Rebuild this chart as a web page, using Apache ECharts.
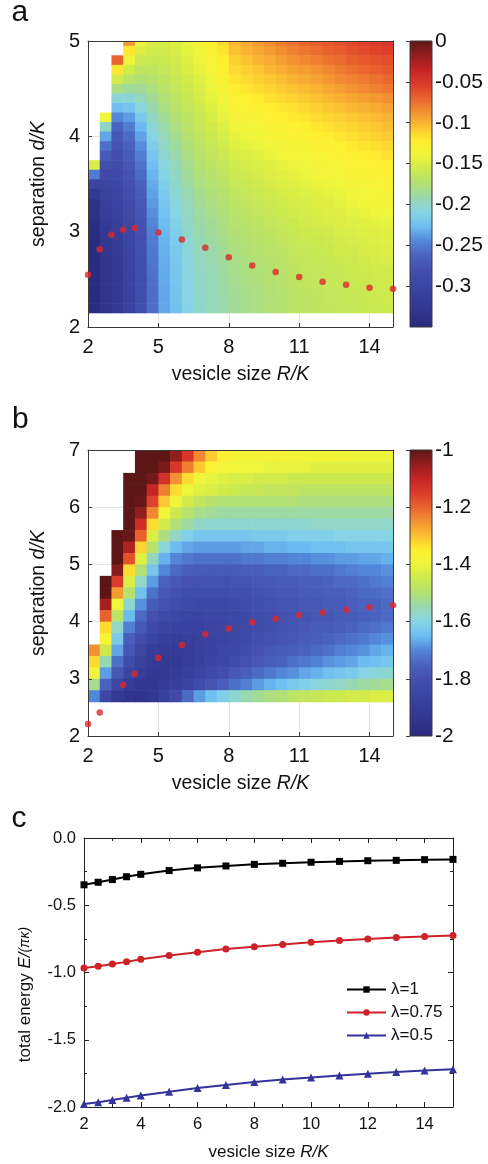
<!DOCTYPE html>
<html>
<head>
<meta charset="utf-8">
<script src="https://cdn.jsdelivr.net/npm/echarts@6/dist/echarts.min.js"></script>
<style>
  html, body { margin: 0; padding: 0; background: #fff; }
  #chart { width: 488px; height: 1164px; }
</style>
</head>
<body>
<div id="chart"></div>
<script>
// ---------------------------------------------------------------------------
// Data
// ---------------------------------------------------------------------------
const _ = null; // no data (outside the computed region)

// Cell centres along the vesicle size axis R/K (cells are 0.5 wide, spanning 2..15)
const cellX = [2.25, 2.75, 3.25, 3.75, 4.25, 4.75, 5.25, 5.75, 6.25, 6.75, 7.25, 7.75, 8.25,
               8.75, 9.25, 9.75, 10.25, 10.75, 11.25, 11.75, 12.25, 12.75, 13.25, 13.75, 14.25, 14.75];

// Panel a: separation d/K of each row (cells 0.1 tall), top to bottom
const rowsA = [5.0, 4.9, 4.8, 4.7, 4.6, 4.5, 4.4, 4.3, 4.2, 4.1, 4.0, 3.9, 3.8, 3.7, 3.6,
               3.5, 3.4, 3.3, 3.2, 3.1, 3.0, 2.9, 2.8, 2.7, 2.6, 2.5, 2.4, 2.3, 2.2];

// Panel a energy, one column per cellX entry, values listed along rowsA
const energyA = [
  [_,_,_,_,_,_,_,_,_,_,_,_,_, -0.15,-0.25,-0.30,-0.325,-0.335,-0.34,-0.343,-0.345,-0.346,-0.346,-0.346,-0.346,-0.346,-0.346,-0.346,-0.346],
  [_,_,_,_,_,_,_,_, -0.14,-0.2,-0.235,-0.255,-0.27,-0.283,-0.292,-0.3,-0.307,-0.312,-0.316,-0.32,-0.323,-0.326,-0.328,-0.33,-0.331,-0.332,-0.333,-0.333,-0.334],
  [_,_, -0.07,-0.12,-0.155,-0.18,-0.205,-0.225,-0.245,-0.262,-0.272,-0.278,-0.283,-0.287,-0.291,-0.295,-0.3,-0.304,-0.308,-0.311,-0.314,-0.316,-0.318,-0.319,-0.32,-0.321,-0.322,-0.322,-0.322],
  [-0.09,-0.12,-0.14,-0.155,-0.17,-0.187,-0.205,-0.222,-0.238,-0.25,-0.258,-0.264,-0.269,-0.273,-0.277,-0.28,-0.284,-0.288,-0.291,-0.294,-0.297,-0.299,-0.301,-0.302,-0.303,-0.304,-0.305,-0.305,-0.305],
  [-0.14,-0.15,-0.158,-0.166,-0.175,-0.185,-0.196,-0.207,-0.218,-0.228,-0.236,-0.243,-0.249,-0.254,-0.259,-0.264,-0.268,-0.272,-0.275,-0.277,-0.279,-0.281,-0.282,-0.283,-0.284,-0.285,-0.285,-0.286,-0.286],
  [-0.15,-0.155,-0.16,-0.166,-0.172,-0.178,-0.185,-0.192,-0.199,-0.205,-0.211,-0.216,-0.221,-0.225,-0.229,-0.233,-0.236,-0.239,-0.242,-0.245,-0.248,-0.25,-0.252,-0.253,-0.254,-0.255,-0.256,-0.256,-0.256],
  [-0.152,-0.155,-0.158,-0.162,-0.166,-0.17,-0.175,-0.18,-0.185,-0.19,-0.195,-0.199,-0.203,-0.207,-0.211,-0.214,-0.217,-0.22,-0.223,-0.226,-0.228,-0.23,-0.231,-0.232,-0.233,-0.233,-0.234,-0.234,-0.234],
  [-0.148,-0.151,-0.154,-0.157,-0.16,-0.163,-0.167,-0.171,-0.175,-0.179,-0.183,-0.187,-0.191,-0.195,-0.198,-0.201,-0.204,-0.207,-0.21,-0.212,-0.214,-0.216,-0.218,-0.219,-0.22,-0.221,-0.222,-0.222,-0.223],
  [-0.142,-0.145,-0.148,-0.151,-0.154,-0.157,-0.16,-0.163,-0.167,-0.17,-0.174,-0.177,-0.18,-0.184,-0.187,-0.19,-0.193,-0.196,-0.198,-0.2,-0.202,-0.204,-0.206,-0.207,-0.208,-0.209,-0.21,-0.21,-0.211],
  [-0.135,-0.138,-0.141,-0.144,-0.147,-0.15,-0.153,-0.156,-0.159,-0.162,-0.165,-0.168,-0.171,-0.174,-0.177,-0.18,-0.183,-0.185,-0.188,-0.19,-0.192,-0.194,-0.196,-0.197,-0.199,-0.2,-0.2,-0.201,-0.201],
  [-0.125,-0.128,-0.132,-0.135,-0.138,-0.142,-0.145,-0.148,-0.152,-0.155,-0.158,-0.162,-0.165,-0.168,-0.171,-0.174,-0.177,-0.18,-0.182,-0.185,-0.187,-0.189,-0.191,-0.192,-0.194,-0.195,-0.195,-0.196,-0.196],
  [-0.115,-0.119,-0.122,-0.126,-0.13,-0.133,-0.137,-0.141,-0.144,-0.148,-0.152,-0.155,-0.159,-0.163,-0.166,-0.169,-0.172,-0.174,-0.177,-0.179,-0.181,-0.183,-0.185,-0.187,-0.188,-0.189,-0.19,-0.191,-0.191],
  [-0.102,-0.106,-0.111,-0.115,-0.119,-0.123,-0.127,-0.131,-0.136,-0.14,-0.144,-0.148,-0.152,-0.156,-0.159,-0.162,-0.165,-0.168,-0.17,-0.172,-0.175,-0.177,-0.179,-0.18,-0.182,-0.183,-0.184,-0.185,-0.185],
  [-0.097,-0.101,-0.106,-0.111,-0.115,-0.12,-0.124,-0.129,-0.133,-0.137,-0.141,-0.145,-0.149,-0.153,-0.156,-0.159,-0.162,-0.165,-0.167,-0.17,-0.172,-0.174,-0.176,-0.178,-0.179,-0.18,-0.181,-0.182,-0.182],
  [-0.091,-0.096,-0.101,-0.107,-0.111,-0.116,-0.121,-0.126,-0.13,-0.134,-0.138,-0.142,-0.146,-0.15,-0.153,-0.156,-0.159,-0.162,-0.164,-0.167,-0.169,-0.171,-0.173,-0.175,-0.176,-0.177,-0.178,-0.179,-0.179],
  [-0.086,-0.091,-0.097,-0.102,-0.108,-0.113,-0.118,-0.123,-0.127,-0.131,-0.135,-0.139,-0.143,-0.147,-0.15,-0.153,-0.156,-0.159,-0.161,-0.164,-0.166,-0.168,-0.17,-0.172,-0.173,-0.174,-0.175,-0.176,-0.176],
  [-0.08,-0.086,-0.092,-0.098,-0.104,-0.109,-0.115,-0.12,-0.124,-0.128,-0.132,-0.136,-0.14,-0.144,-0.147,-0.15,-0.153,-0.156,-0.158,-0.161,-0.163,-0.165,-0.167,-0.169,-0.17,-0.171,-0.172,-0.173,-0.173],
  [-0.075,-0.081,-0.087,-0.094,-0.1,-0.106,-0.112,-0.117,-0.121,-0.125,-0.129,-0.133,-0.137,-0.141,-0.144,-0.147,-0.15,-0.153,-0.155,-0.158,-0.16,-0.162,-0.164,-0.165,-0.166,-0.167,-0.168,-0.169,-0.169],
  [-0.071,-0.077,-0.084,-0.091,-0.097,-0.103,-0.109,-0.114,-0.119,-0.123,-0.127,-0.131,-0.135,-0.139,-0.142,-0.145,-0.148,-0.151,-0.153,-0.155,-0.157,-0.159,-0.161,-0.163,-0.164,-0.165,-0.166,-0.167,-0.167],
  [-0.068,-0.074,-0.081,-0.088,-0.094,-0.1,-0.106,-0.111,-0.116,-0.12,-0.124,-0.128,-0.132,-0.136,-0.14,-0.143,-0.146,-0.149,-0.151,-0.153,-0.156,-0.158,-0.16,-0.162,-0.163,-0.164,-0.165,-0.166,-0.166],
  [-0.065,-0.07,-0.076,-0.083,-0.089,-0.096,-0.102,-0.108,-0.113,-0.118,-0.122,-0.126,-0.13,-0.134,-0.137,-0.141,-0.144,-0.147,-0.149,-0.152,-0.154,-0.156,-0.158,-0.16,-0.161,-0.162,-0.163,-0.164,-0.165],
  [-0.062,-0.067,-0.073,-0.079,-0.085,-0.092,-0.099,-0.105,-0.111,-0.115,-0.119,-0.124,-0.128,-0.132,-0.135,-0.139,-0.142,-0.145,-0.147,-0.15,-0.152,-0.154,-0.156,-0.158,-0.16,-0.161,-0.162,-0.163,-0.163],
  [-0.058,-0.063,-0.069,-0.075,-0.082,-0.088,-0.096,-0.102,-0.108,-0.113,-0.117,-0.121,-0.125,-0.129,-0.133,-0.136,-0.139,-0.142,-0.145,-0.148,-0.151,-0.153,-0.155,-0.157,-0.158,-0.159,-0.16,-0.161,-0.162],
  [-0.055,-0.06,-0.066,-0.072,-0.079,-0.085,-0.093,-0.1,-0.106,-0.11,-0.114,-0.119,-0.123,-0.127,-0.131,-0.134,-0.137,-0.14,-0.143,-0.146,-0.149,-0.151,-0.153,-0.155,-0.157,-0.158,-0.159,-0.16,-0.16],
  [-0.053,-0.057,-0.063,-0.069,-0.076,-0.082,-0.09,-0.097,-0.103,-0.108,-0.112,-0.117,-0.121,-0.125,-0.128,-0.132,-0.135,-0.138,-0.141,-0.145,-0.147,-0.149,-0.151,-0.153,-0.155,-0.156,-0.157,-0.158,-0.159],
  [-0.05,-0.054,-0.06,-0.066,-0.072,-0.078,-0.087,-0.094,-0.1,-0.105,-0.109,-0.114,-0.118,-0.122,-0.126,-0.13,-0.133,-0.136,-0.139,-0.143,-0.146,-0.148,-0.15,-0.152,-0.154,-0.155,-0.156,-0.157,-0.158]
];

// Panel b: separation d/K of each row (cells 0.2 tall), top to bottom
const rowsB = [6.9, 6.7, 6.5, 6.3, 6.1, 5.9, 5.7, 5.5, 5.3, 5.1, 4.9, 4.7, 4.5, 4.3, 4.1, 3.9, 3.7, 3.5, 3.3, 3.1, 2.9, 2.7];

// Panel b energy, one row per rowsB entry, values listed along cellX
const energyB = [
  [_,_,_,_, -1.0,-1.0,-1.0,-1.05,-1.14,-1.24,-1.31,-1.36,-1.38,-1.38,-1.38,-1.38,-1.38,-1.39,-1.39,-1.39,-1.39,-1.39,-1.40,-1.40,-1.40,-1.40],
  [_,_,_,_, -1.0,-1.0,-1.03,-1.14,-1.23,-1.31,-1.37,-1.39,-1.40,-1.40,-1.40,-1.41,-1.41,-1.41,-1.41,-1.42,-1.42,-1.42,-1.42,-1.42,-1.42,-1.42],
  [_,_,_, -1.0,-1.0,-1.02,-1.13,-1.25,-1.33,-1.39,-1.41,-1.42,-1.43,-1.43,-1.44,-1.44,-1.44,-1.45,-1.45,-1.45,-1.45,-1.45,-1.45,-1.45,-1.45,-1.45],
  [_,_,_, -1.0,-1.0,-1.1,-1.23,-1.33,-1.40,-1.42,-1.43,-1.44,-1.45,-1.46,-1.46,-1.47,-1.47,-1.47,-1.48,-1.48,-1.48,-1.48,-1.48,-1.48,-1.48,-1.48],
  [_,_,_, -1.0,-1.01,-1.16,-1.31,-1.40,-1.44,-1.47,-1.49,-1.50,-1.50,-1.50,-1.50,-1.50,-1.50,-1.50,-1.51,-1.51,-1.51,-1.51,-1.51,-1.51,-1.51,-1.51],
  [_,_,_, -1.0,-1.05,-1.24,-1.39,-1.45,-1.49,-1.52,-1.53,-1.54,-1.54,-1.54,-1.54,-1.54,-1.54,-1.54,-1.54,-1.54,-1.54,-1.54,-1.54,-1.54,-1.54,-1.54],
  [_,_,_, -1.0,-1.12,-1.33,-1.44,-1.50,-1.54,-1.57,-1.58,-1.58,-1.58,-1.58,-1.58,-1.58,-1.58,-1.58,-1.58,-1.57,-1.57,-1.57,-1.57,-1.57,-1.57,-1.57],
  [_,_, -1.0,-1.01,-1.2,-1.43,-1.51,-1.57,-1.61,-1.63,-1.63,-1.63,-1.63,-1.63,-1.62,-1.62,-1.62,-1.61,-1.61,-1.61,-1.61,-1.60,-1.60,-1.60,-1.60,-1.60],
  [_,_, -1.0,-1.08,-1.32,-1.49,-1.59,-1.65,-1.67,-1.68,-1.68,-1.68,-1.68,-1.67,-1.67,-1.66,-1.66,-1.65,-1.65,-1.64,-1.64,-1.64,-1.63,-1.63,-1.63,-1.63],
  [_,_, -1.0,-1.18,-1.42,-1.56,-1.66,-1.70,-1.72,-1.73,-1.73,-1.73,-1.73,-1.72,-1.72,-1.71,-1.71,-1.70,-1.70,-1.69,-1.69,-1.68,-1.68,-1.67,-1.67,-1.66],
  [_,_, -1.04,-1.33,-1.50,-1.63,-1.70,-1.74,-1.76,-1.77,-1.77,-1.77,-1.77,-1.76,-1.76,-1.75,-1.75,-1.74,-1.74,-1.73,-1.73,-1.72,-1.71,-1.70,-1.70,-1.69],
  [_, -1.0,-1.15,-1.43,-1.57,-1.68,-1.75,-1.78,-1.80,-1.80,-1.80,-1.80,-1.79,-1.79,-1.78,-1.78,-1.77,-1.77,-1.76,-1.76,-1.75,-1.74,-1.74,-1.73,-1.72,-1.71],
  [_, -1.0,-1.26,-1.49,-1.64,-1.73,-1.78,-1.80,-1.82,-1.82,-1.82,-1.82,-1.81,-1.81,-1.80,-1.79,-1.78,-1.78,-1.77,-1.77,-1.76,-1.76,-1.75,-1.74,-1.74,-1.73],
  [_, -1.07,-1.40,-1.58,-1.69,-1.77,-1.80,-1.82,-1.83,-1.84,-1.84,-1.84,-1.83,-1.82,-1.81,-1.80,-1.79,-1.79,-1.78,-1.78,-1.77,-1.77,-1.76,-1.75,-1.75,-1.74],
  [_, -1.2,-1.48,-1.65,-1.74,-1.80,-1.83,-1.85,-1.86,-1.86,-1.85,-1.85,-1.84,-1.83,-1.82,-1.81,-1.80,-1.79,-1.79,-1.78,-1.78,-1.77,-1.77,-1.76,-1.75,-1.74],
  [_, -1.33,-1.57,-1.71,-1.78,-1.83,-1.86,-1.87,-1.87,-1.87,-1.86,-1.86,-1.85,-1.83,-1.82,-1.81,-1.80,-1.79,-1.78,-1.77,-1.77,-1.76,-1.75,-1.74,-1.73,-1.72],
  [_, -1.37,-1.62,-1.76,-1.81,-1.86,-1.89,-1.90,-1.89,-1.88,-1.87,-1.86,-1.85,-1.83,-1.81,-1.80,-1.79,-1.78,-1.77,-1.76,-1.75,-1.74,-1.73,-1.72,-1.70,-1.69],
  [-1.25,-1.45,-1.67,-1.78,-1.85,-1.89,-1.91,-1.91,-1.90,-1.88,-1.87,-1.85,-1.84,-1.82,-1.80,-1.78,-1.77,-1.76,-1.75,-1.74,-1.73,-1.71,-1.70,-1.69,-1.67,-1.66],
  [-1.33,-1.55,-1.73,-1.82,-1.88,-1.91,-1.92,-1.92,-1.90,-1.88,-1.86,-1.84,-1.82,-1.80,-1.78,-1.76,-1.75,-1.73,-1.72,-1.71,-1.69,-1.68,-1.67,-1.65,-1.64,-1.63],
  [-1.40,-1.68,-1.78,-1.86,-1.90,-1.92,-1.92,-1.91,-1.89,-1.86,-1.83,-1.81,-1.78,-1.76,-1.74,-1.72,-1.70,-1.69,-1.67,-1.66,-1.64,-1.63,-1.62,-1.60,-1.59,-1.58],
  [-1.52,-1.75,-1.85,-1.91,-1.93,-1.93,-1.91,-1.89,-1.86,-1.82,-1.79,-1.76,-1.73,-1.71,-1.68,-1.66,-1.64,-1.62,-1.61,-1.59,-1.58,-1.57,-1.55,-1.54,-1.53,-1.52],
  [-1.70,-1.85,-1.92,-1.95,-1.95,-1.93,-1.88,-1.83,-1.74,-1.68,-1.64,-1.61,-1.58,-1.55,-1.53,-1.51,-1.50,-1.48,-1.47,-1.46,-1.45,-1.45,-1.44,-1.44,-1.43,-1.43]
];

// Optimal separation for each vesicle size (red markers)
const optimumA_R = [2, 2.5, 3, 3.5, 4, 5, 6, 7, 8, 9, 10, 11, 12, 13, 14, 15];
const optimumA_d = [2.549, 2.816, 2.968, 3.021, 3.038, 2.99, 2.919, 2.83, 2.732, 2.646, 2.578, 2.524, 2.474, 2.442, 2.412, 2.4];
const optimumB_R = [2, 2.5, 3.5, 4, 5, 6, 7, 8, 9, 10, 11, 12, 13, 14, 15];
const optimumB_d = [2.21, 2.41, 2.89, 3.09, 3.37, 3.59, 3.78, 3.88, 3.99, 4.05, 4.115, 4.16, 4.205, 4.25, 4.287];

// Panel c: total energy at the optimum for three values of lambda
const sizeC = [2, 2.5, 3, 3.5, 4, 5, 6, 7, 8, 9, 10, 11, 12, 13, 14, 15];
const energyLambda1 = [-0.348, -0.329, -0.309, -0.288, -0.270, -0.242, -0.222, -0.208, -0.196, -0.188, -0.180, -0.174, -0.169, -0.166, -0.161, -0.159];
const energyLambda075 = [-0.967, -0.954, -0.936, -0.921, -0.902, -0.874, -0.849, -0.826, -0.808, -0.791, -0.776, -0.762, -0.751, -0.740, -0.732, -0.724];
const energyLambda05 = [-1.978, -1.964, -1.948, -1.931, -1.915, -1.887, -1.858, -1.836, -1.815, -1.795, -1.780, -1.765, -1.752, -1.740, -1.728, -1.720];

// Colour bar tick labels
const colorbarTicksA = { min: -0.35, max: 0, step: 0.05 };
const colorbarTicksB = { min: -2, max: -1, step: 0.2 };

// Jet-like colour scale, evenly spaced from low to high
const palette = ['#2a2a7e', '#30348c', '#363d98', '#3c46a3', '#4350ae', '#4a62bf', '#5286d8',
                 '#6cbcf2', '#86d4e6', '#98d8b0', '#b2e074', '#cce94e', '#eef53a', '#ffee30',
                 '#fbc032', '#f39232', '#e9622e', '#dc3a2a', '#c42424', '#921d1d', '#5c1616'];

// ---------------------------------------------------------------------------
// Build series data
// ---------------------------------------------------------------------------
const cellsA = [];
energyA.forEach((col, i) => col.forEach((v, j) => { if (v !== null) cellsA.push([cellX[i], rowsA[j], v]); }));
const cellsB = [];
energyB.forEach((row, j) => row.forEach((v, i) => { if (v !== null) cellsB.push([cellX[i], rowsB[j], v]); }));

const FONT = '"Liberation Sans", Arial, Helvetica, sans-serif';
const INK = '#111';
const FRAME = '#3a3a3a';
const GRIDLINE = '#e2e2e2';

// Draws one map cell as a rectangle, clipped to the plotting area
function cellRenderer(dx, dy) {
  return function (params, api) {
    const cs = params.coordSys;
    const cx = api.value(0), cy = api.value(1);
    const tl = api.coord([cx - dx / 2, cy + dy / 2]);
    const br = api.coord([cx + dx / 2, cy - dy / 2]);
    const x0 = Math.max(tl[0], cs.x), y0 = Math.max(tl[1], cs.y);
    const x1 = Math.min(br[0] + 0.6, cs.x + cs.width);
    const y1 = Math.min(br[1] + 0.6, cs.y + cs.height);
    return { type: 'rect', shape: { x: x0, y: y0, width: x1 - x0, height: y1 - y0 },
             style: { fill: api.visual('color') } };
  };
}

// Colour bar: one gradient rectangle filling its grid
function colorbarRenderer(params) {
  const cs = params.coordSys;
  const stops = palette.map((c, k) => ({ offset: k / (palette.length - 1), color: c }));
  return { type: 'rect', shape: { x: cs.x, y: cs.y, width: cs.width, height: cs.height },
           style: { fill: new echarts.graphic.LinearGradient(0, 1, 0, 0, stops), stroke: FRAME, lineWidth: 1 } };
}

const tickFont = { fontFamily: FONT, fontSize: 20, color: INK };
const italicRich = (size) => ({ i: { fontFamily: FONT, fontSize: size, fontStyle: 'italic', color: INK } });

// Axes for one map panel: labelled axes underneath, frame axes drawn on top
function mapXAxes(grid) {
  return [
    { gridIndex: grid, type: 'value', min: 2, max: 15, interval: 3, position: 'bottom',
      name: 'vesicle size {i|R/K}', nameLocation: 'middle', nameGap: 38,
      nameTextStyle: { fontFamily: FONT, fontSize: 19.5, color: INK, rich: italicRich(19.5) },
      axisLine: { show: false }, axisTick: { show: false },
      axisLabel: Object.assign({ margin: 10, showMaxLabel: false }, tickFont),
      splitLine: { show: true, lineStyle: { color: GRIDLINE, width: 1 } } },
    { gridIndex: grid, type: 'value', min: 2, max: 15, interval: 3, position: 'bottom', z: 5,
      axisLine: { show: true, onZero: false, lineStyle: { color: FRAME, width: 1 } },
      axisTick: { show: true, inside: true, length: 4, lineStyle: { color: FRAME } },
      axisLabel: { show: false }, splitLine: { show: false } },
    { gridIndex: grid, type: 'value', min: 2, max: 15, interval: 3, position: 'top', z: 5,
      axisLine: { show: true, onZero: false, lineStyle: { color: FRAME, width: 1 } },
      axisTick: { show: false }, axisLabel: { show: false }, splitLine: { show: false } }
  ];
}
function mapYAxes(grid, max) {
  return [
    { gridIndex: grid, type: 'value', min: 2, max: max, interval: 1, position: 'left',
      name: 'separation {i|d/K}', nameLocation: 'middle', nameGap: 39,
      nameTextStyle: { fontFamily: FONT, fontSize: 19.5, color: INK, rich: italicRich(19.5) },
      axisLine: { show: false }, axisTick: { show: false },
      axisLabel: Object.assign({ margin: 8 }, tickFont),
      splitLine: { show: true, lineStyle: { color: GRIDLINE, width: 1 } } },
    { gridIndex: grid, type: 'value', min: 2, max: max, interval: 1, position: 'left', z: 5,
      axisLine: { show: true, onZero: false, lineStyle: { color: FRAME, width: 1 } },
      axisTick: { show: true, inside: true, length: 4, lineStyle: { color: FRAME } },
      axisLabel: { show: false }, splitLine: { show: false } },
    { gridIndex: grid, type: 'value', min: 2, max: max, interval: 1, position: 'right', z: 5,
      axisLine: { show: true, onZero: false, lineStyle: { color: FRAME, width: 1 } },
      axisTick: { show: false }, axisLabel: { show: false }, splitLine: { show: false } }
  ];
}
function colorbarYAxis(grid, t) {
  return { gridIndex: grid, type: 'value', min: t.min, max: t.max, interval: t.step, position: 'right', z: 5,
    axisLine: { show: false },
    axisTick: { show: true, inside: true, length: 4, lineStyle: { color: FRAME } },
    axisLabel: Object.assign({ margin: 3, showMinLabel: t.min !== -0.35 }, tickFont, { fontSize: 21 }),
    splitLine: { show: false } };
}
const hiddenX = (grid) => ({ gridIndex: grid, type: 'value', min: 0, max: 1, show: false });

const lineAxisFrame = { show: true, onZero: false, lineStyle: { color: '#222', width: 1 } };
const lineTicks = { show: true, inside: true, length: 5, lineStyle: { color: '#222' } };
const lineMinor = { show: true, splitNumber: 2, length: 3, lineStyle: { color: '#222' } };
const cFont = { fontFamily: FONT, fontSize: 16.5, color: INK };

const option = {
  animation: false,
  backgroundColor: '#fff',
  grid: [
    { left: 88, top: 41, width: 305, height: 286, outerBoundsMode: 'none', containLabel: false },
    { left: 88, top: 450, width: 305, height: 286, outerBoundsMode: 'none', containLabel: false },
    { left: 410, top: 41, width: 22, height: 286, outerBoundsMode: 'none', containLabel: false },
    { left: 410, top: 450, width: 22, height: 286, outerBoundsMode: 'none', containLabel: false },
    { left: 84, top: 838, width: 369, height: 269, outerBoundsMode: 'none', containLabel: false }
  ],
  xAxis: [
    ...mapXAxes(0),              // 0,1,2
    ...mapXAxes(1),              // 3,4,5
    hiddenX(2),                  // 6
    hiddenX(3),                  // 7
    { gridIndex: 4, type: 'value', min: 2, max: 15, interval: 2, position: 'bottom',   // 8
      name: 'vesicle size {i|R/K}', nameLocation: 'middle', nameGap: 37,
      nameTextStyle: { fontFamily: FONT, fontSize: 17, color: INK, rich: italicRich(17) },
      axisLine: lineAxisFrame, axisTick: lineTicks, minorTick: lineMinor,
      axisLabel: Object.assign({ margin: 9, showMaxLabel: false }, cFont),
      splitLine: { show: false } },
    { gridIndex: 4, type: 'value', min: 2, max: 15, interval: 2, position: 'top',      // 9
      axisLine: lineAxisFrame, axisTick: lineTicks, minorTick: lineMinor,
      axisLabel: { show: false }, splitLine: { show: false } }
  ],
  yAxis: [
    ...mapYAxes(0, 5),           // 0,1,2
    ...mapYAxes(1, 7),           // 3,4,5
    colorbarYAxis(2, colorbarTicksA),  // 6
    colorbarYAxis(3, colorbarTicksB),  // 7
    { gridIndex: 4, type: 'value', min: -2, max: 0, interval: 0.5, position: 'left',   // 8
      name: 'total energy {i|E/}{s|(πκ)}', nameLocation: 'middle', nameGap: 50,
      nameTextStyle: { fontFamily: FONT, fontSize: 17, color: INK, padding: [0, 44, 0, 0],
        rich: Object.assign(italicRich(17), { s: { fontFamily: FONT, fontSize: 14, fontStyle: 'italic', color: INK } }) },
      axisLine: lineAxisFrame, axisTick: lineTicks, minorTick: lineMinor,
      axisLabel: Object.assign({ margin: 8, formatter: (v) => v.toFixed(1) }, cFont),
      splitLine: { show: false } },
    { gridIndex: 4, type: 'value', min: -2, max: 0, interval: 0.5, position: 'right',  // 9
      axisLine: lineAxisFrame, axisTick: lineTicks, minorTick: lineMinor,
      axisLabel: { show: false }, splitLine: { show: false } }
  ],
  visualMap: [
    { type: 'continuous', show: false, seriesIndex: 0, dimension: 2, min: -0.35, max: 0, inRange: { color: palette } },
    { type: 'continuous', show: false, seriesIndex: 2, dimension: 2, min: -2, max: -1, inRange: { color: palette } }
  ],
  legend: {
    data: ['λ=1', 'λ=0.75', 'λ=0.5'],
    orient: 'vertical', left: 346, top: 981, padding: 0,
    itemWidth: 39, itemHeight: 8, itemGap: 6,
    textStyle: { fontFamily: FONT, fontSize: 17, color: INK }
  },
  graphic: [
    { type: 'text', x: 11.5, y: 13, style: { text: 'a', font: '30px "Liberation Sans", Arial, sans-serif', fill: INK, verticalAlign: 'middle' } },
    { type: 'text', x: 12, y: 420, style: { text: 'b', font: '30px "Liberation Sans", Arial, sans-serif', fill: INK, verticalAlign: 'middle' } },
    { type: 'text', x: 11.5, y: 819, style: { text: 'c', font: '30px "Liberation Sans", Arial, sans-serif', fill: INK, verticalAlign: 'middle' } }
  ],
  series: [
    { type: 'custom', xAxisIndex: 0, yAxisIndex: 0, renderItem: cellRenderer(0.5, 0.1),
      encode: { x: 0, y: 1 }, data: cellsA, z: 2, silent: true },
    { type: 'scatter', xAxisIndex: 0, yAxisIndex: 0, clip: false, z: 6, symbolSize: 6.5,
      itemStyle: { color: '#e0252b' }, data: optimumA_R.map((r, k) => [r, optimumA_d[k]]) },
    { type: 'custom', xAxisIndex: 3, yAxisIndex: 3, renderItem: cellRenderer(0.5, 0.2),
      encode: { x: 0, y: 1 }, data: cellsB, z: 2, silent: true },
    { type: 'scatter', xAxisIndex: 3, yAxisIndex: 3, clip: false, z: 6, symbolSize: 6.5,
      itemStyle: { color: '#e0252b' }, data: optimumB_R.map((r, k) => [r, optimumB_d[k]]) },
    { type: 'custom', xAxisIndex: 6, yAxisIndex: 6, renderItem: colorbarRenderer,
      data: [[0.5, -0.2]], silent: true, z: 2 },
    { type: 'custom', xAxisIndex: 7, yAxisIndex: 7, renderItem: colorbarRenderer,
      data: [[0.5, -1.5]], silent: true, z: 2 },
    { type: 'line', name: 'λ=1', xAxisIndex: 8, yAxisIndex: 8, z: 6,
      symbol: 'rect', symbolSize: 7, showAllSymbol: true,
      lineStyle: { color: '#000', width: 2 }, itemStyle: { color: '#000' },
      data: sizeC.map((r, k) => [r, energyLambda1[k]]) },
    { type: 'line', name: 'λ=0.75', xAxisIndex: 8, yAxisIndex: 8, z: 6,
      symbol: 'circle', symbolSize: 7, showAllSymbol: true,
      lineStyle: { color: '#cc2228', width: 2 }, itemStyle: { color: '#cc2228' },
      data: sizeC.map((r, k) => [r, energyLambda075[k]]) },
    { type: 'line', name: 'λ=0.5', xAxisIndex: 8, yAxisIndex: 8, z: 6,
      symbol: 'triangle', symbolSize: 8, showAllSymbol: true,
      lineStyle: { color: '#333399', width: 2 }, itemStyle: { color: '#333399' },
      data: sizeC.map((r, k) => [r, energyLambda05[k]]) }
  ]
};

const chart = echarts.init(document.getElementById('chart'), null, { renderer: 'canvas' });
chart.setOption(option);
</script>
</body>
</html>
